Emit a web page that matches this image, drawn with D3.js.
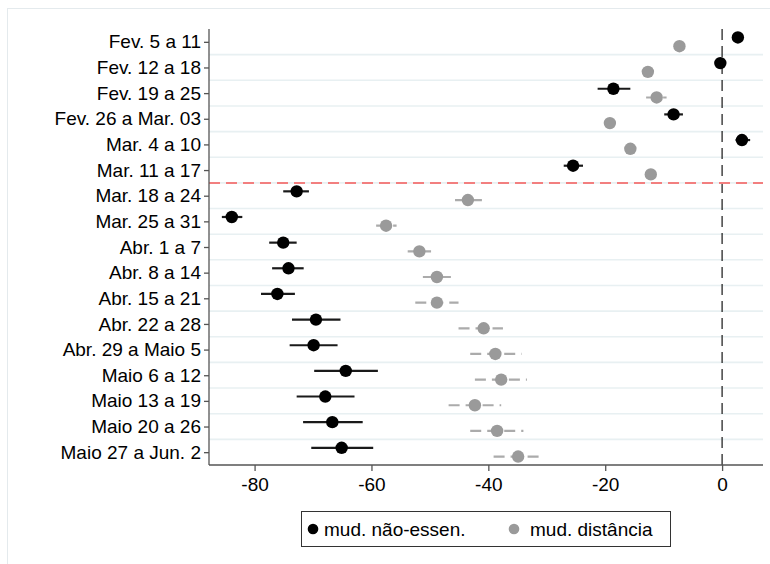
<!DOCTYPE html>
<html>
<head>
<meta charset="utf-8">
<script src="https://cdn.jsdelivr.net/npm/d3@7"></script>
<style>
  html, body { margin: 0; padding: 0; background: #fff; }
  svg { display: block; }
  text { font-family: "Liberation Sans", Arial, Helvetica, sans-serif; fill: #000; }
</style>
</head>
<body>
<svg id="chart" width="770" height="564"></svg>
<script>
// Weekly coefficients with 95% confidence intervals
const weeks = [
  "Fev. 5 a 11", "Fev. 12 a 18", "Fev. 19 a 25", "Fev. 26 a Mar. 03",
  "Mar. 4 a 10", "Mar. 11 a 17", "Mar. 18 a 24", "Mar. 25 a 31",
  "Abr. 1 a 7", "Abr. 8 a 14", "Abr. 15 a 21", "Abr. 22 a 28",
  "Abr. 29 a Maio 5", "Maio 6 a 12", "Maio 13 a 19", "Maio 20 a 26",
  "Maio 27 a Jun. 2"
];

// mud. não-essen.
const naoEssen   = [2.7, -0.3, -18.6, -8.3, 3.4, -25.5, -72.8, -83.9, -75.1, -74.2, -76.1, -69.5, -69.9, -64.4, -67.9, -66.7, -65.1];
const naoEssenLo = [1.9, -1.1, -21.3, -9.9, 2.3, -27.1, -75.1, -85.6, -77.5, -77.0, -78.9, -73.6, -74.0, -69.8, -72.8, -71.7, -70.3];
const naoEssenHi = [3.5,  0.5, -15.7, -6.7, 4.8, -23.8, -70.7, -82.1, -72.8, -71.6, -73.1, -65.3, -65.8, -58.9, -62.9, -61.5, -59.7];

// mud. distância
const distancia   = [-7.3, -12.7, -11.2, -19.2, -15.7, -12.2, -43.5, -57.5, -51.8, -48.8, -48.8, -40.8, -38.8, -37.8, -42.3, -38.5, -34.9];
const distanciaLo = [-8.0, -13.5, -13.0, -20.0, -16.5, -13.0, -45.7, -59.2, -53.8, -51.2, -52.5, -45.1, -43.1, -42.3, -46.8, -43.1, -39.1];
const distanciaHi = [-6.6, -11.9,  -9.5, -18.4, -14.9, -11.4, -41.1, -55.7, -49.8, -46.4, -45.1, -37.5, -34.3, -33.4, -37.8, -34.0, -31.4];

const xTicks = [-80, -60, -40, -20, 0];
const xDomain = [-87.8, 7.0];
const breakWeek = "Mar. 18 a 24";

const series = [
  { name: "mud. não-essen.", est: naoEssen, lo: naoEssenLo, hi: naoEssenHi,
    dot: "#000000", ci: "#1a1a1a", dash: null, shift: -0.17 },
  { name: "mud. distância", est: distancia, lo: distanciaLo, hi: distanciaHi,
    dot: "#9a9a9a", ci: "#ababab", dash: "11,6", shift: 0.17 }
];

const FONT = 19;
const svg = d3.select("#chart");
const plot = { left: 209, right: 763, top: 29, bottom: 465 };

// outer graph region frame
svg.append("rect")
  .attr("x", 7.5).attr("y", 8.5).attr("width", 820).attr("height", 620)
  .attr("fill", "#fff").attr("stroke", "#e4eaed").attr("stroke-width", 1);

const x = d3.scaleLinear().domain(xDomain).range([plot.left, plot.right]);
const y = d3.scalePoint().domain(weeks).range([plot.top, plot.bottom]).padding(0.5);
const step = y.step();

// separators between weeks
const gridG = svg.append("g");
weeks.slice(0, -1).forEach((w, i) => {
  const gy = (y(w) + y(weeks[i + 1])) / 2;
  gridG.append("line")
    .attr("x1", plot.left).attr("x2", plot.right)
    .attr("y1", gy).attr("y2", gy)
    .attr("stroke", "#e8f0f2").attr("stroke-width", 1.6);
});

// zero reference
svg.append("line")
  .attr("x1", x(0)).attr("x2", x(0))
  .attr("y1", plot.top).attr("y2", plot.bottom)
  .attr("stroke", "#000").attr("stroke-width", 1.1)
  .attr("stroke-dasharray", "11,6");

// start of the break period
const bi = weeks.indexOf(breakWeek);
const by = (y(weeks[bi - 1]) + y(weeks[bi])) / 2;
svg.append("line")
  .attr("x1", plot.left).attr("x2", plot.right)
  .attr("y1", by).attr("y2", by)
  .attr("stroke", "#f27f7f").attr("stroke-width", 2)
  .attr("stroke-dasharray", "11,6");

// confidence intervals and point estimates
series.forEach(s => {
  const g = svg.append("g");
  weeks.forEach((w, i) => {
    const cy = y(w) + s.shift * step;
    const ln = g.append("line")
      .attr("x1", x(s.lo[i])).attr("x2", x(s.hi[i]))
      .attr("y1", cy).attr("y2", cy)
      .attr("stroke", s.ci).attr("stroke-width", 2.2);
    if (s.dash) ln.attr("stroke-dasharray", s.dash);
  });
  weeks.forEach((w, i) => {
    g.append("circle")
      .attr("cx", x(s.est[i])).attr("cy", y(w) + s.shift * step)
      .attr("r", 6.2).attr("fill", s.dot);
  });
});

// axes
const yAxis = d3.axisLeft(y).tickSize(5).tickPadding(3);
const yg = svg.append("g").attr("transform", `translate(${plot.left},0)`).call(yAxis);
yg.select(".domain").attr("d", `M0,${plot.top}V${plot.bottom}`);
const xAxis = d3.axisBottom(x).tickValues(xTicks).tickSize(6).tickPadding(7).tickFormat(d => String(d));
const xg = svg.append("g").attr("transform", `translate(0,${plot.bottom})`).call(xAxis);
xg.select(".domain").attr("d", `M${plot.left},0H${plot.right}`);

[yg, xg].forEach(g => {
  g.select(".domain").attr("stroke", "#555").attr("stroke-width", 1.3);
  g.selectAll(".tick line").attr("stroke", "#555").attr("stroke-width", 1.3);
  g.selectAll(".tick text").attr("font-size", FONT)
    .attr("font-family", "'Liberation Sans', Arial, Helvetica, sans-serif").attr("fill", "#000");
});

// legend
const lg = svg.append("g");
lg.append("rect")
  .attr("x", 301.5).attr("y", 511.5).attr("width", 369).attr("height", 35)
  .attr("fill", "#fff").attr("stroke", "#333").attr("stroke-width", 1);
const legendPos = [{ cx: 313, tx: 324 }, { cx: 514, tx: 530 }];
series.forEach((s, i) => {
  lg.append("circle").attr("cx", legendPos[i].cx).attr("cy", 529).attr("r", 5.3).attr("fill", s.dot);
  lg.append("text").attr("x", legendPos[i].tx).attr("y", 535.5)
    .attr("font-size", FONT).text(s.name);
});
</script>
</body>
</html>
